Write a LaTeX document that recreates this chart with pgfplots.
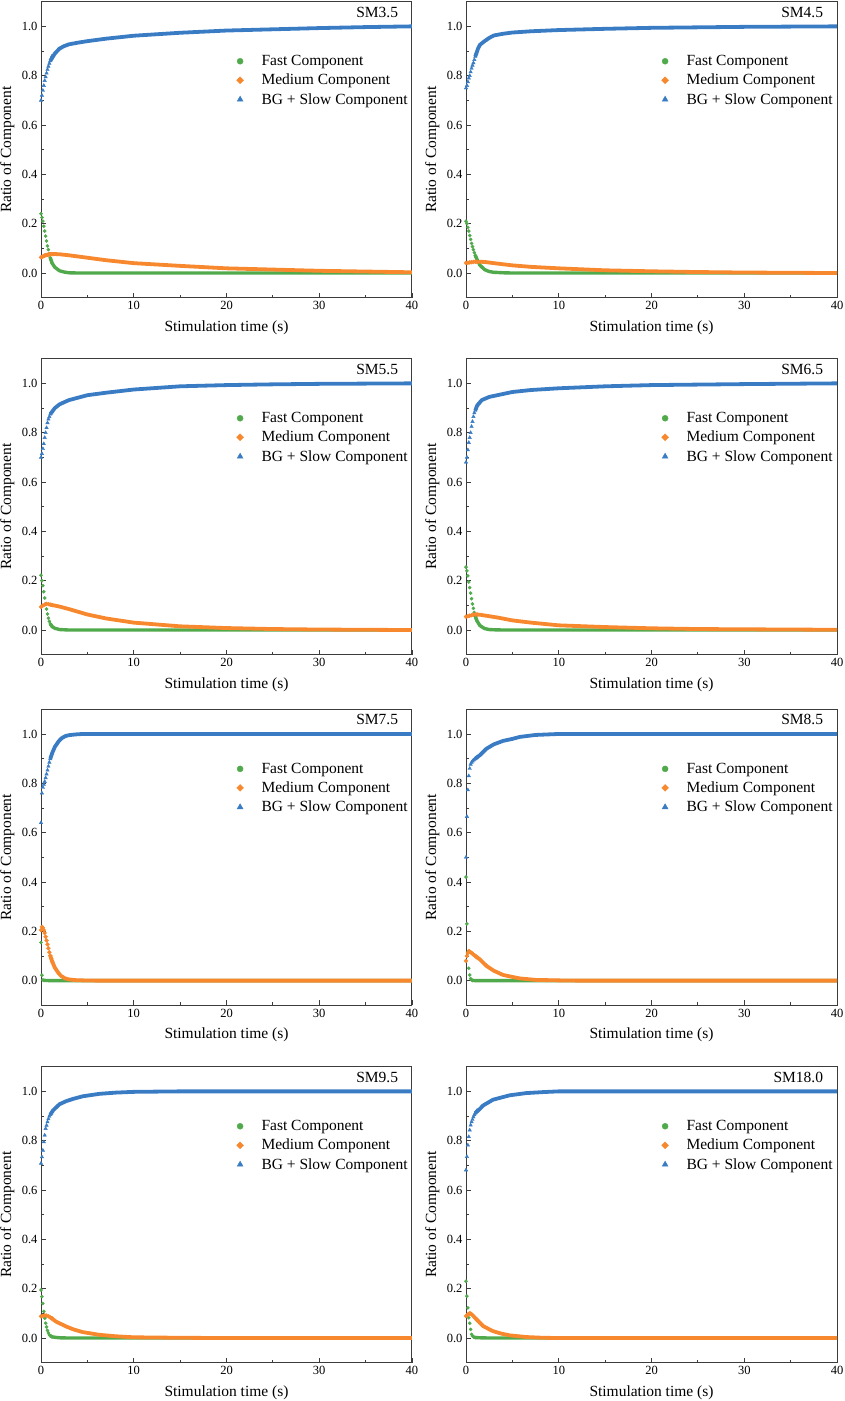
\documentclass[border=0pt]{standalone}
\usepackage{pgfplots}
\pgfplotsset{compat=1.18}
\usepackage{fontspec}
\setmainfont{Liberation Serif}
\definecolor{cF}{RGB}{80,170,76}
\definecolor{cM}{RGB}{247,136,45}
\definecolor{cS}{RGB}{58,124,196}
\definecolor{cAx}{RGB}{60,60,60}
\newcommand{\labfont}{\fontsize{15.5}{18}\selectfont}
\newcommand{\tickfont}{\fontsize{12.5}{14}\selectfont}
\pgfplotsset{
  panel/.style={
    scale only axis, width=371pt, height=296pt, anchor=south west,
    xmin=0, xmax=40, ymin=-0.1, ymax=1.1,
    xtick={0,10,20,30,40}, minor x tick num=1,
    ytick={0,0.2,0.4,0.6,0.8,1.0}, minor y tick num=1,
    tick align=inside, tick pos=left,
    major tick length=5pt, minor tick length=3pt,
    axis line style={line width=1pt, cAx},
    every tick/.style={line width=0.8pt, cAx},
    ticklabel style={font=\tickfont},
    /pgf/number format/assume math mode=true,
    yticklabel style={/pgf/number format/.cd, fixed, fixed zerofill, precision=1},
    xlabel={Stimulation time (s)}, ylabel={Ratio of Component},
    label style={font=\labfont},
    xlabel style={at={(axis description cs:0.5,-0.101)}, anchor=center},
    ylabel style={at={(axis description cs:-0.0908,0.5)}, anchor=center},
    legend cell align=left,
    legend style={at={(axis description cs:0.527,0.826)}, anchor=north west,
      draw=none, fill=none, inner sep=0pt, row sep=3pt, font=\labfont,
      /tikz/every odd column/.append style={column sep=16pt}},
  },
}
\newcommand{\legimgs}{%
  \addlegendimage{only marks, mark=*, mark size=3pt, cF}
  \addlegendimage{only marks, mark=square*, mark size=2.4pt, mark options={rotate=45}, cM}
  \addlegendimage{only marks, mark=triangle*, mark size=3.4pt, cS}
  \legend{Fast Component, Medium Component, BG + Slow Component}}
\newcommand{\fast}[2]{%
  \addplot[forget plot, cF, line width=3.4pt, line join=round] coordinates {#2};
  \addplot[forget plot, only marks, mark=*, mark size=1.6pt, cF] coordinates {#1};}
\newcommand{\medium}[2]{%
  \addplot[forget plot, cM, line width=3.8pt, line join=round] coordinates {#2};
  \addplot[forget plot, only marks, mark=square*, mark size=1.4pt, mark options={rotate=45}, cM] coordinates {#1};}
\newcommand{\slow}[2]{%
  \addplot[forget plot, cS, line width=3.8pt, line join=round] coordinates {#2};
  \addplot[forget plot, only marks, mark=triangle*, mark size=2pt, cS] coordinates {#1};}
\newcommand{\ptitle}[1]{\node[anchor=east, font=\labfont] at (rel axis cs:0.972,0.964) {#1};}
\begin{document}
\begin{tikzpicture}
\useasboundingbox (0,0) rectangle (844pt,1401pt);
% ---------------- SM3.5
\begin{axis}[panel, at={(41pt,1103.3pt)}]
\legimgs
\fast{(0,.24)(.1,.225)(.2,.21)(.3,.19)(.4,.17)(.5,.15)(.6,.13)(.7,.11)(.8,.095)(.9,.078)(1,.062)(1.1,.05)(1.2,.04)}
     {(1,.062)(1.2,.04)(1.5,.023)(2,.009)(2.5,.004)(3,.001)(4,0)(40,0)}
\medium{(0,.063)(.1,.065)(.2,.067)(.3,.069)(.4,.071)(.5,.072)(.6,.073)(.7,.074)(.8,.075)(.9,.076)(1,.076)(1.1,.077)(1.2,.077)}
     {(1,.076)(1.5,.077)(2,.076)(3,.072)(5,.062)(7,.052)(10,.04)(15,.029)(20,.019)(25,.014)(30,.009)(35,.006)(40,.003)}
\slow{(0,.70)(.1,.72)(.2,.74)(.3,.76)(.4,.78)(.5,.795)(.6,.81)(.7,.825)(.8,.838)(.9,.85)(1,.86)(1.1,.87)(1.2,.88)}
     {(1,.86)(1.5,.89)(2,.91)(2.5,.92)(3,.927)(4,.934)(5,.94)(7,.95)(10,.962)(15,.974)(20,.983)(25,.988)(30,.993)(35,.997)(40,1.0)}
\ptitle{SM3.5}
\end{axis}
% ---------------- SM4.5
\begin{axis}[panel, at={(466pt,1103.3pt)}]
\legimgs
\fast{(0,.21)(.1,.20)(.2,.185)(.3,.17)(.4,.152)(.5,.136)(.6,.12)(.7,.107)(.8,.095)(.9,.083)(1,.072)(1.1,.063)(1.2,.054)}
     {(1,.072)(1.2,.054)(1.5,.032)(2,.014)(2.5,.006)(3,.003)(4,.001)(5,0)(40,0)}
\medium{(0,.041)(.2,.042)(.4,.043)(.6,.044)(.8,.045)(1,.046)(1.2,.046)}
     {(1,.046)(2,.045)(3,.04)(5,.031)(7,.025)(10,.019)(15,.011)(20,.007)(25,.004)(30,.002)(40,0)}
\slow{(0,.75)(.1,.76)(.2,.775)(.3,.79)(.4,.80)(.5,.815)(.6,.83)(.7,.842)(.8,.852)(.9,.865)(1,.878)(1.1,.89)(1.2,.90)}
     {(1,.878)(1.3,.91)(1.5,.925)(2,.94)(2.5,.953)(3,.963)(4,.97)(5,.975)(7,.98)(10,.985)(15,.99)(20,.994)(30,.998)(40,1)}
\ptitle{SM4.5}
\end{axis}
% ---------------- SM5.5
\begin{axis}[panel, at={(41pt,746.3pt)}]
\legimgs
\fast{(0,.222)(.1,.20)(.2,.18)(.3,.155)(.4,.13)(.5,.105)(.6,.085)(.7,.065)(.8,.048)(.9,.035)(1,.025)(1.1,.019)(1.2,.014)}
     {(1,.025)(1.2,.014)(1.5,.007)(2,.002)(3,0)(40,0)}
\medium{(0,.094)(.2,.099)(.4,.103)(.6,.106)(.8,.105)(1,.103)(1.2,.101)}
     {(1,.103)(1.5,.099)(2,.095)(3,.085)(5,.063)(7,.047)(10,.03)(15,.015)(20,.008)(25,.004)(30,.002)(40,0)}
\slow{(0,.70)(.1,.715)(.2,.735)(.3,.755)(.4,.78)(.5,.80)(.6,.82)(.7,.84)(.8,.855)(.9,.865)(1,.875)(1.1,.88)(1.2,.885)}
     {(1,.875)(1.5,.90)(2,.915)(3,.932)(5,.952)(7,.962)(10,.975)(15,.988)(20,.993)(25,.996)(30,.998)(40,1)}
\ptitle{SM5.5}
\end{axis}
% ---------------- SM6.5
\begin{axis}[panel, at={(466pt,746.3pt)}]
\legimgs
\fast{(0,.255)(.1,.24)(.2,.22)(.3,.195)(.4,.172)(.5,.15)(.6,.127)(.7,.106)(.8,.088)(.9,.071)(1,.056)(1.1,.045)(1.2,.036)}
     {(1,.056)(1.2,.036)(1.5,.018)(2,.006)(2.5,.002)(3,.001)(4,0)(40,0)}
\medium{(0,.054)(.2,.056)(.4,.058)(.6,.06)(.8,.062)(1,.063)(1.2,.063)}
     {(1,.063)(1.5,.062)(2,.059)(3.5,.05)(5,.039)(7,.03)(10,.019)(15,.012)(20,.007)(25,.004)(30,.003)(40,.001)}
\slow{(0,.68)(.1,.70)(.2,.73)(.3,.76)(.4,.78)(.5,.80)(.6,.825)(.7,.845)(.8,.865)(.9,.88)(1,.89)(1.1,.90)(1.2,.91)}
     {(1,.89)(1.2,.91)(1.7,.932)(2.5,.945)(3.5,.953)(5,.965)(7,.973)(10,.98)(15,.988)(20,.993)(30,.997)(40,1)}
\ptitle{SM6.5}
\end{axis}
% ---------------- SM7.5
\begin{axis}[panel, at={(41pt,395.7pt)}]
\legimgs
\fast{(0,.155)(.1,.022)(.2,.003)(.3,.001)}
     {(.3,.001)(1,0)(40,0)}
\medium{(0,.205)(.1,.218)(.2,.214)(.3,.205)(.4,.193)(.5,.178)(.6,.163)(.7,.147)(.8,.131)(.9,.115)(1,.101)(1.1,.089)(1.2,.078)}
     {(1,.101)(1.2,.078)(1.5,.052)(1.9,.03)(2.2,.018)(2.6,.009)(3,.005)(3.7,.002)(4.5,.001)(6,0)(40,0)}
\slow{(0,.64)(.1,.76)(.2,.783)(.3,.795)(.4,.807)(.5,.822)(.6,.837)(.7,.853)(.8,.869)(.9,.885)(1,.899)(1.1,.911)(1.2,.922)}
     {(1,.899)(1.2,.922)(1.5,.948)(1.9,.97)(2.2,.982)(2.6,.991)(3,.995)(3.7,.998)(4.5,1)(40,1)}
\ptitle{SM7.5}
\end{axis}
% ---------------- SM8.5
\begin{axis}[panel, at={(466pt,395.7pt)}]
\legimgs
\fast{(0,.42)(.1,.23)(.2,.115)(.3,.05)(.4,.023)(.5,.008)(.6,.003)(.7,.001)}
     {(.7,.001)(1,0)(40,0)}
\medium{(0,.08)(.1,.10)(.2,.112)(.3,.12)(.4,.118)(.5,.115)(.6,.112)(.7,.109)(.8,.106)(.9,.103)(1,.10)(1.1,.097)(1.2,.094)}
     {(1,.10)(1.5,.086)(2.2,.06)(3,.04)(4,.023)(5,.015)(5.8,.009)(7.5,.003)(10,.001)(12,0)(40,0)}
\slow{(0,.50)(.1,.665)(.2,.773)(.3,.83)(.4,.86)(.5,.877)(.6,.885)(.7,.89)(.8,.894)(.9,.897)(1,.90)(1.1,.903)(1.2,.906)}
     {(1,.90)(1.5,.914)(2.2,.94)(3,.958)(4,.972)(5,.98)(5.8,.988)(7.5,.996)(10,1)(40,1)}
\ptitle{SM8.5}
\end{axis}
% ---------------- SM9.5
\begin{axis}[panel, at={(41pt,38.3pt)}]
\legimgs
\fast{(0,.195)(.1,.168)(.2,.14)(.3,.108)(.4,.08)(.5,.06)(.6,.045)(.7,.031)(.8,.021)(.9,.013)(1,.009)(1.1,.007)(1.2,.005)}
     {(1,.009)(1.2,.005)(1.5,.003)(2,.001)(3,0)(40,0)}
\medium{(0,.088)(.2,.09)(.4,.092)(.6,.091)(.8,.088)(1,.084)(1.2,.08)}
     {(1,.084)(1.6,.067)(2.7,.047)(3.5,.035)(4.5,.024)(6.3,.013)(8.1,.007)(10,.003)(15,.001)(20,0)(40,0)}
\slow{(0,.708)(.1,.734)(.2,.761)(.3,.795)(.4,.822)(.5,.849)(.6,.862)(.7,.876)(.8,.888)(.9,.899)(1,.906)(1.1,.912)(1.2,.918)}
     {(1,.906)(1.3,.923)(2,.948)(2.7,.96)(3.5,.97)(4.5,.98)(6.3,.99)(8.1,.995)(10,.998)(15,1)(40,1)}
\ptitle{SM9.5}
\end{axis}
% ---------------- SM18.0
\begin{axis}[panel, at={(466pt,38.3pt)}]
\legimgs
\fast{(0,.23)(.1,.17)(.2,.122)(.3,.082)(.4,.06)(.5,.035)(.6,.015)(.7,.008)(.8,.005)(.9,.003)(1,.002)}
     {(1,.002)(1.5,.001)(2.5,0)(40,0)}
\medium{(0,.089)(.1,.092)(.2,.095)(.3,.098)(.4,.10)(.5,.099)(.6,.097)(.7,.093)(.8,.089)(.9,.085)(1,.081)(1.1,.077)(1.2,.073)}
     {(1,.081)(1.33,.068)(1.86,.048)(2.9,.028)(3.8,.018)(4.7,.011)(6.5,.004)(8.3,.001)(10,0)(40,0)}
\slow{(0,.681)(.1,.735)(.2,.782)(.3,.816)(.4,.843)(.5,.863)(.6,.876)(.7,.886)(.8,.896)(.9,.905)(1,.912)(1.1,.918)(1.2,.923)}
     {(1,.912)(1.33,.923)(1.86,.943)(2.9,.966)(4.7,.984)(6.5,.993)(8.3,.997)(10,1)(40,1)}
\ptitle{SM18.0}
\end{axis}
\end{tikzpicture}
\end{document}
